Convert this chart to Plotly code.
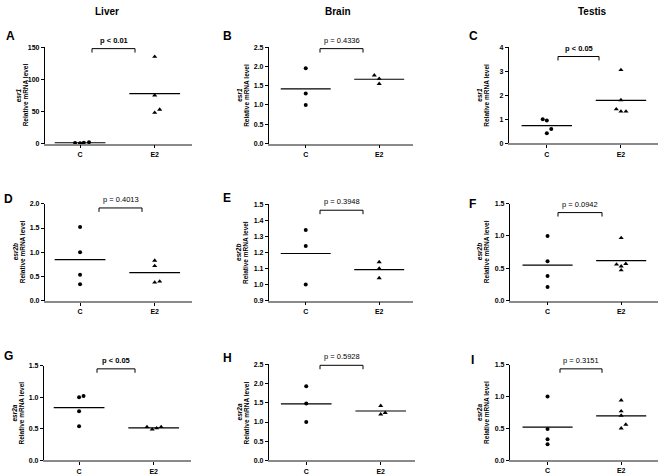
import plotly.graph_objects as go
import numpy as np

FONT = "Arial, Liberation Sans, sans-serif"

groups = ["C", "E2"]
tissues = ["Liver", "Brain", "Testis"]
genes = ["esr1", "esr2b", "esr2a"]
letters = ["A", "B", "C", "D", "E", "F", "G", "H", "I"]

# values per panel: (control, E2)
A_C = [1.0, 0.6, 1.2, 2.0];            A_E2 = [135, 75, 48, 53]
B_C = [1.95, 1.3, 1.0];                B_E2 = [1.77, 1.68, 1.55]
C_C = [1.0, 0.95, 0.6, 0.42];          C_E2 = [3.05, 1.8, 1.42, 1.33, 1.33]
D_C = [1.52, 1.0, 0.54, 0.34];         D_E2 = [0.83, 0.72, 0.38, 0.40]
E_C = [1.34, 1.24, 1.0];               E_E2 = [1.14, 1.10, 1.04]
F_C = [1.0, 0.61, 0.38, 0.21];         F_E2 = [0.97, 0.56, 0.53, 0.57, 0.47]
G_C = [1.0, 1.02, 0.78, 0.54];         G_E2 = [0.53, 0.49, 0.51, 0.53]
H_C = [1.93, 1.48, 1.0];               H_E2 = [1.42, 1.2, 1.24]
I_C = [1.0, 0.49, 0.33, 0.25];         I_E2 = [0.94, 0.77, 0.70, 0.56, 0.50]

p_labels = ["p < 0.01", "p = 0.4336", "p < 0.05",
            "p = 0.4013", "p = 0.3948", "p = 0.0942",
            "p < 0.05", "p = 0.5928", "p = 0.3151"]
p_bold = [True, False, True, False, False, False, True, False, False]

y_max = [150, 2.5, 4, 2.0, 1.5, 1.5, 1.5, 2.5, 1.5]
y_min = [0, 0, 0, 0, 0.9, 0, 0, 0, 0]
y_step = [50, 0.5, 1, 0.5, 0.1, 0.5, 0.5, 0.5, 0.5]

# horizontal jitter of points (style/placement, in category units)
jit = {
    "A": ([-0.067, 0, 0.05, 0.12], [0, 0, 0, 0.067]),
    "B": ([0, 0, 0], [-0.067, 0, 0]),
    "C": ([-0.055, 0, 0.06, 0], [0, 0, -0.063, 0, 0.068]),
    "D": ([0, 0, 0, 0], [0, 0, 0, 0.067]),
    "E": ([0, 0, 0], [0, 0, 0]),
    "F": ([0, 0, 0, 0], [0, -0.063, 0, 0.063, 0]),
    "G": ([0, 0.06, 0, 0], [-0.09, -0.02, 0.04, 0.1]),
    "H": ([0, 0, 0], [0, 0, 0.06]),
    "I": ([0, 0, 0, 0], [0, 0, 0, 0.063, 0]),
}

data = {
    "A": (A_C, A_E2), "B": (B_C, B_E2), "C": (C_C, C_E2),
    "D": (D_C, D_E2), "E": (E_C, E_E2), "F": (F_C, F_E2),
    "G": (G_C, G_E2), "H": (H_C, H_E2), "I": (I_C, I_E2),
}

W, H = 661, 476
# panel boxes in px: x0, x1, ytop, ybottom
boxes = [
    (45, 192, 43.7, 141.7), (269, 413, 43.7, 141.7), (509, 658, 43.7, 141.5),
    (45, 192, 202.7, 301.3), (269, 413, 203.3, 301.0), (510, 658, 202.7, 301.0),
    (44, 191, 367.0, 463.3), (269, 415, 365.7, 463.3), (510, 658, 366.0, 463.0),
]
xranges = [(-0.47, 1.5), (-0.5, 1.46), (-0.51, 1.5)]
# bracket px: x0, x1, y (top)
brackets = [
    (92, 135, 45.3), (320, 363, 45.3), (558, 599, 53.3),
    (99, 142, 207), (320, 363, 209.3), (558, 602, 211.7),
    (97, 135, 370.3), (320, 363, 366.7), (560, 602, 370.3),
]
# y-title line offsets from axis (px)
ytitle_off = [(-27, -20), (-29.5, -22.5), (-29.5, -22.5),
              (-30, -23), (-30.5, -23.5), (-31, -24),
              (-29.5, -22.5), (-30, -23), (-30.5, -23.5)]
letter_pos = [(10, 32), (227, 32), (473, 32), (8, 198), (227, 197), (472, 203),
              (8, 357), (227, 359), (472, 361)]
header_pos = [(107, 8), (338, 8), (592, 8)]

fig = go.Figure()
layout = dict(
    width=W, height=H, margin=dict(l=0, r=0, t=0, b=0),
    paper_bgcolor="white", plot_bgcolor="white", showlegend=False,
    font=dict(family=FONT, color="black"),
)
shapes = []
annotations = []

for i, L in enumerate(letters):
    n = i + 1
    xa = "x" if n == 1 else f"x{n}"
    ya = "y" if n == 1 else f"y{n}"
    x0, x1, yt, yb = boxes[i]
    col = i % 3
    row = i // 3
    cv, ev = data[L]
    jc, je = jit[L]
    fig.add_trace(go.Scatter(
        x=[0 + j for j in jc], y=cv, mode="markers", xaxis=xa, yaxis=ya,
        marker=dict(symbol="circle", size=4, color="black"), cliponaxis=False))
    fig.add_trace(go.Scatter(
        x=[1 + j for j in je], y=ev, mode="markers", xaxis=xa, yaxis=ya,
        marker=dict(symbol="triangle-up", size=4.5, color="black"), cliponaxis=False))
    for k, vals in enumerate((cv, ev)):
        m = float(np.mean(vals))
        fig.add_trace(go.Scatter(
            x=[k - 0.34, k + 0.34], y=[m, m], mode="lines", xaxis=xa, yaxis=ya,
            line=dict(color="black", width=1.2), hoverinfo="skip"))
    ticks = [float(v) for v in np.round(np.arange(y_min[i], y_max[i] + y_step[i] / 2, y_step[i]), 3)]
    if y_step[i] >= 1:
        tt = [f"<b>{int(round(v))}</b>" for v in ticks]
    else:
        tt = [f"<b>{v:.1f}</b>" for v in ticks]
    layout[f"xaxis{'' if n == 1 else n}"] = dict(
        domain=[x0 / W, x1 / W], anchor=ya, range=list(xranges[col]),
        tickvals=[0, 1], ticktext=[f"<b>{g}</b>" for g in groups],
        showgrid=False, zeroline=False, showline=True, linecolor="#8a8a8a", linewidth=1.6,
        ticks="outside", ticklen=3, tickwidth=1, tickcolor="black",
        tickfont=dict(size=7, family=FONT, color="black"), fixedrange=True)
    layout[f"yaxis{'' if n == 1 else n}"] = dict(
        domain=[1 - yb / H, 1 - yt / H], anchor=xa, range=[y_min[i], y_max[i]],
        tickvals=ticks, ticktext=tt,
        showgrid=False, zeroline=False, showline=True, linecolor="black", linewidth=1.2,
        ticks="outside", ticklen=3, tickwidth=1, tickcolor="black",
        tickfont=dict(size=7, family=FONT, color="black"),
        fixedrange=True)
    # y-axis title as two rotated lines
    ymid = 1 - (yt + yb) / 2 / H
    o1, o2 = ytitle_off[i]
    annotations.append(dict(text=f"<b><i>{genes[row]}</i></b>", xref="paper", yref="paper",
                            x=(x0 + o1) / W, y=ymid, xanchor="center", yanchor="middle",
                            textangle=-90, showarrow=False,
                            font=dict(size=6.5, family=FONT, color="black")))
    annotations.append(dict(text="<b>Relative mRNA level</b>", xref="paper", yref="paper",
                            x=(x0 + o2) / W, y=ymid, xanchor="center", yanchor="middle",
                            textangle=-90, showarrow=False,
                            font=dict(size=6.5, family=FONT, color="black")))
    # bracket
    bx0, bx1, by = brackets[i]
    for seg in [((bx0, by + 4), (bx0, by)), ((bx0, by), (bx1, by)), ((bx1, by), (bx1, by + 4))]:
        shapes.append(dict(type="line", xref="paper", yref="paper",
                           x0=seg[0][0] / W, y0=1 - seg[0][1] / H,
                           x1=seg[1][0] / W, y1=1 - seg[1][1] / H,
                           line=dict(color="black", width=1)))
    txt = f"<b>{p_labels[i]}</b>" if p_bold[i] else p_labels[i]
    annotations.append(dict(text=txt, xref="paper", yref="paper",
                            x=(bx0 + bx1) / 2 / W, y=1 - (by - 2) / H,
                            xanchor="center", yanchor="bottom", showarrow=False,
                            font=dict(size=7.5, family=FONT, color="black")))
    lx, ly = letter_pos[i]
    annotations.append(dict(text=f"<b>{L}</b>", xref="paper", yref="paper",
                            x=lx / W, y=1 - ly / H, xanchor="center", yanchor="middle",
                            showarrow=False, font=dict(size=12, family=FONT, color="black")))

for t, (hx, hy) in zip(tissues, header_pos):
    annotations.append(dict(text=f"<b>{t}</b>", xref="paper", yref="paper",
                            x=hx / W, y=1 - hy / H, xanchor="center", yanchor="middle",
                            showarrow=False, font=dict(size=10, family=FONT, color="black")))

layout["shapes"] = shapes
layout["annotations"] = annotations
fig.update_layout(**layout)
fig.write_html("out.html", config={"displayModeBar": False},
               post_script="document.body.style.margin='0';document.body.style.padding='0';")
